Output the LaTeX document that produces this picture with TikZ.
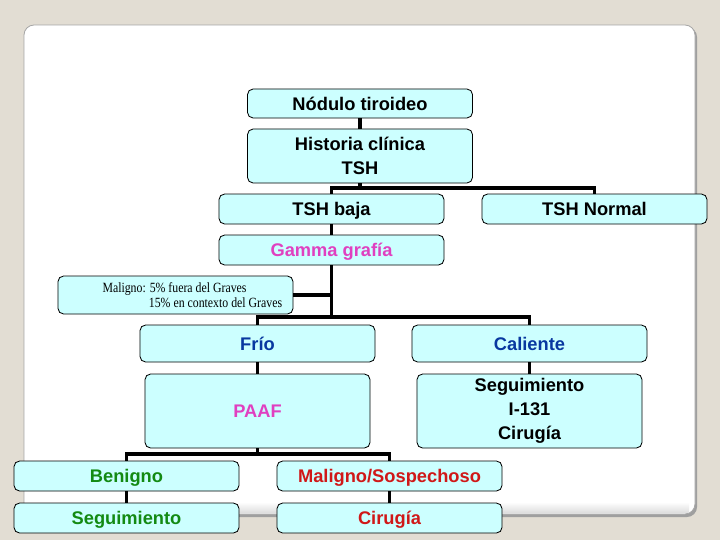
\documentclass[tikz,border=0pt]{standalone}
\usepackage{fontspec}
\setmainfont{Liberation Serif}
\setsansfont{Liberation Sans}
\newfontfamily\notefont[FakeStretch=0.84]{Liberation Serif}

\definecolor{slidebg}{HTML}{E2DDD3}
\definecolor{boxfill}{HTML}{CCFFFF}
\definecolor{pinktext}{HTML}{E040C0}
\definecolor{bluetext}{HTML}{0838A0}
\definecolor{greentext}{HTML}{138A13}
\definecolor{redtext}{HTML}{D01818}

\begin{document}
\begin{tikzpicture}[x=0.025cm, y=-0.025cm,
  box/.style={draw=black, line width=0.6pt, fill=boxfill, rounded corners=4pt,
    minimum width=5.625cm, minimum height=0.75cm, inner sep=0pt,
    font=\sffamily\bfseries\fontsize{13}{17}\selectfont},
  single/.style={box, text height=9.4pt, text depth=0pt},
  link/.style={line width=2.2pt}]

% Background and slide
\useasboundingbox (0,0) rectangle (720,540);
\fill[slidebg] (0,0) rectangle (720,540);
\fill[gray!75, rounded corners=0.25cm] (26,27) rectangle (697,517);
\fill[white, draw=gray!70, line width=0.6pt, rounded corners=0.25cm] (24,25) rectangle (695,514);
\shade[top color=white, bottom color=gray!25] (30,502) rectangle (689,512);

% Boxes
\node[single, minimum height=0.725cm] (nodulo) at (360,103.5) {Nódulo tiroideo};
\node[box, align=center, minimum height=1.35cm] (historia) at (360,156) {Historia clínica\\TSH};
\node[single] (baja) at (331.5,209) {TSH baja};
\node[single] (normal) at (594.5,209) {TSH Normal};
\node[single, text=pinktext] (gamma) at (331.5,250) {Gamma grafía};
\node[box, minimum width=5.875cm, minimum height=0.95cm, align=left,
  font=\notefont\fontsize{10}{10.8}\selectfont] (nota) at (175.5,295)
  {\hspace*{0.84cm}Maligno: 5\% fuera del Graves\\\hspace*{2.0cm}15\% en contexto del Graves};
\node[single, minimum width=5.875cm, minimum height=0.925cm, text=bluetext] (frio) at (257.5,343.5) {Frío};
\node[single, minimum width=5.875cm, minimum height=0.925cm, text=bluetext] (caliente) at (529.5,343.5) {Caliente};
\node[single, minimum height=1.85cm, text=pinktext] (paaf) at (257.5,411) {PAAF};
\node[box, align=center, minimum height=1.85cm] (tratamiento) at (529.5,411) {Seguimiento\\I-131\\Cirugía};
\node[single, text=greentext] (benigno) at (126.5,476) {Benigno};
\node[single, text=redtext] (maligno) at (389.5,476) {Maligno/Sospechoso};
\node[single, text=greentext] (seguir) at (126.5,518) {Seguimiento};
\node[single, text=redtext] (cirugia) at (389.5,518) {Cirugía};

% Connectors
\coordinate (jTSH) at (360,188);
\coordinate (jScan) at (331.5,317);
\coordinate (jPAAF) at (257.5,454);

\draw[link] (nodulo) -- (historia);
\draw[link] (historia) -- (jTSH);
\draw[link] (baja.north) |- (jTSH) -| (normal.north);
\draw[link] (baja) -- (gamma);
\draw[link] (gamma) -- (jScan);
\draw[link] (nota.east) -- (nota.east -| jScan);
\draw[link] (frio.north) |- (jScan) -| (caliente.north);
\draw[link] (frio) -- (paaf);
\draw[link] (caliente) -- (tratamiento);
\draw[link] (paaf) -- (jPAAF);
\draw[link] (benigno.north) |- (jPAAF) -| (maligno.north);
\draw[link] (benigno) -- (seguir);
\draw[link] (maligno) -- (cirugia);

\end{tikzpicture}
\end{document}
